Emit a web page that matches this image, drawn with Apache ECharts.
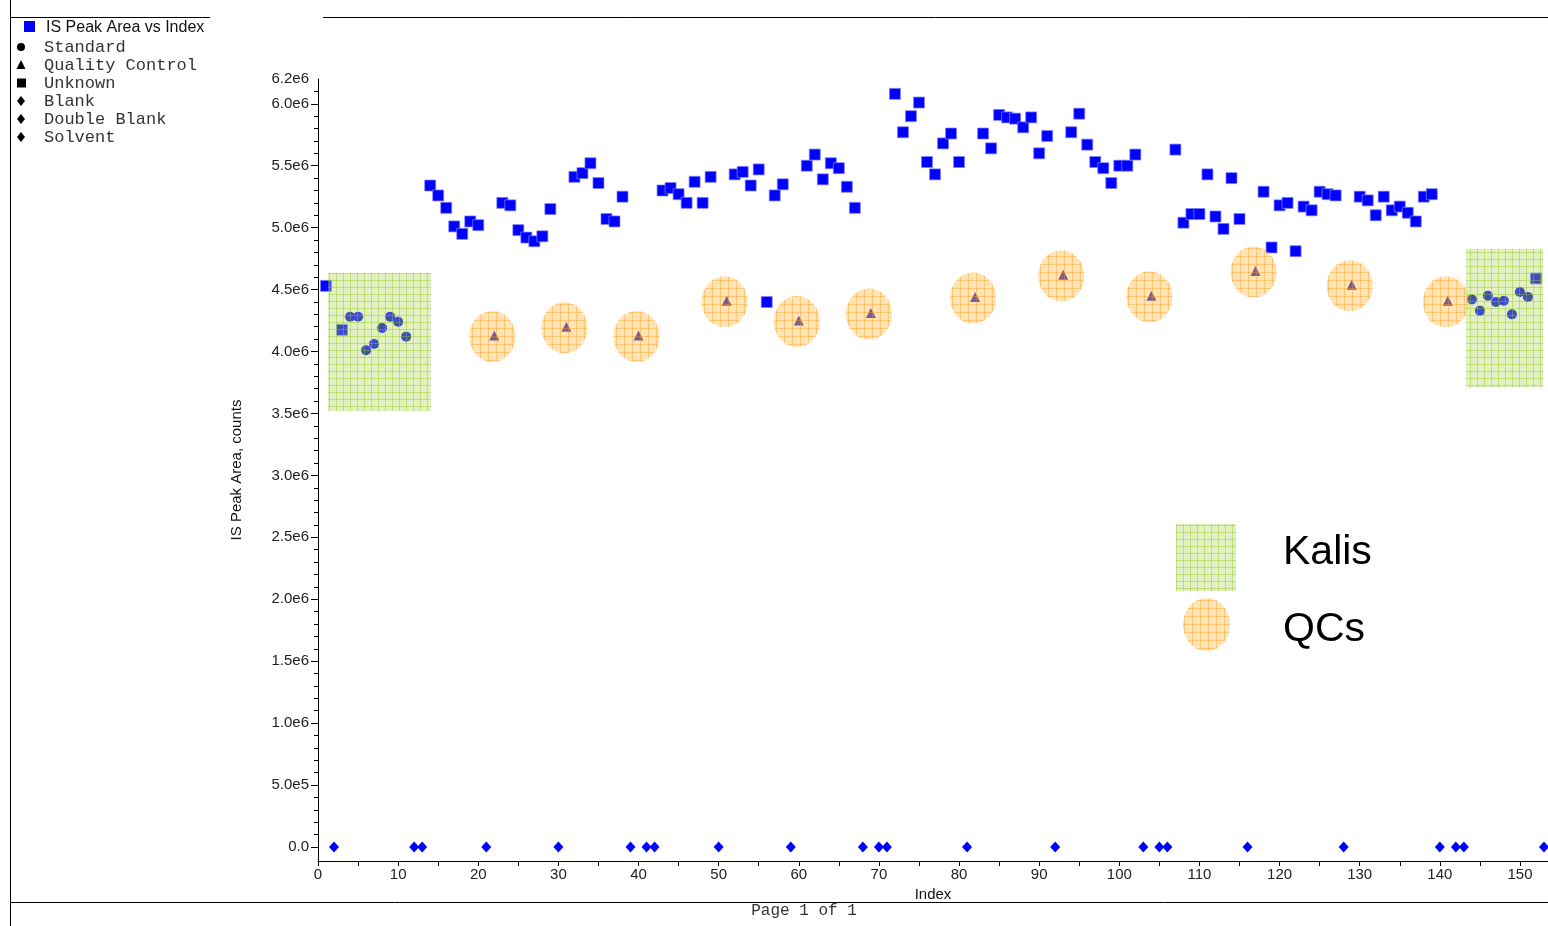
<!DOCTYPE html>
<html>
<head>
<meta charset="utf-8">
<script src="https://cdn.jsdelivr.net/npm/echarts@6/dist/echarts.min.js"></script>
<style>
  html, body { margin: 0; padding: 0; background: #fff; }
  #chart { width: 1548px; height: 926px; }
</style>
</head>
<body>
<div id="chart"></div>
<script>
// ---- Data: injection index vs internal-standard peak area (counts) ----
const unknownIndex = [1, 3, 14, 15, 16, 17, 18, 19, 20, 23, 24, 25, 26, 27, 28, 29, 32, 33, 34, 35, 36, 37, 38,
  43, 44, 45, 46, 47, 48, 49, 52, 53, 54, 55, 56, 57, 58, 61, 62, 63, 64, 65, 66, 67,
  72, 73, 74, 75, 76, 77, 78, 79, 80, 83, 84, 85, 86, 87, 88, 89, 90, 91,
  94, 95, 96, 97, 98, 99, 100, 101, 102, 107, 108, 109, 110, 111, 112, 113, 114, 115,
  118, 119, 120, 121, 122, 123, 124, 125, 126, 127, 130, 131, 132, 133, 134, 135, 136, 137, 138, 139, 152];
const unknownArea = [4.53e6, 4.175e6, 5.34e6, 5.26e6, 5.16e6, 5.01e6, 4.95e6, 5.05e6, 5.02e6, 5.20e6, 5.18e6, 4.98e6, 4.92e6, 4.89e6, 4.93e6, 5.15e6, 5.41e6, 5.44e6, 5.52e6, 5.36e6, 5.07e6, 5.05e6, 5.25e6,
  5.30e6, 5.32e6, 5.27e6, 5.20e6, 5.37e6, 5.20e6, 5.41e6, 5.43e6, 5.45e6, 5.34e6, 5.47e6, 4.40e6, 5.26e6, 5.35e6, 5.50e6, 5.59e6, 5.39e6, 5.52e6, 5.48e6, 5.33e6, 5.16e6,
  6.08e6, 5.77e6, 5.90e6, 6.01e6, 5.53e6, 5.43e6, 5.68e6, 5.76e6, 5.53e6, 5.76e6, 5.64e6, 5.91e6, 5.89e6, 5.88e6, 5.81e6, 5.89e6, 5.60e6, 5.74e6,
  5.77e6, 5.92e6, 5.67e6, 5.53e6, 5.48e6, 5.36e6, 5.50e6, 5.50e6, 5.59e6, 5.63e6, 5.04e6, 5.11e6, 5.11e6, 5.43e6, 5.09e6, 4.99e6, 5.40e6, 5.07e6,
  5.29e6, 4.84e6, 5.18e6, 5.20e6, 4.81e6, 5.17e6, 5.14e6, 5.29e6, 5.27e6, 5.26e6, 5.25e6, 5.22e6, 5.10e6, 5.25e6, 5.14e6, 5.17e6, 5.12e6, 5.05e6, 5.25e6, 5.27e6, 4.59e6];

const standardIndex = [4, 5, 6, 7, 8, 9, 10, 11, 144, 145, 146, 147, 148, 149, 150, 151];
const standardArea = [4.28e6, 4.28e6, 4.01e6, 4.06e6, 4.19e6, 4.28e6, 4.24e6, 4.12e6,
  4.42e6, 4.33e6, 4.45e6, 4.40e6, 4.41e6, 4.30e6, 4.48e6, 4.44e6];

const qcIndex = [22, 31, 40, 51, 60, 69, 82, 93, 104, 117, 129, 141];
const qcArea = [4.13e6, 4.20e6, 4.13e6, 4.41e6, 4.25e6, 4.31e6, 4.44e6, 4.62e6, 4.45e6, 4.65e6, 4.54e6, 4.41e6];

// Blank, double blank and solvent injections (no internal standard)
const blankIndex = [2, 12, 13, 21, 30, 39, 41, 42, 50, 59, 68, 70, 71, 81, 92, 103, 105, 106, 116, 128, 140, 142, 143, 153];
const blankArea = [0, 0, 0, 0, 0, 0, 0, 0, 0, 0, 0, 0, 0, 0, 0, 0, 0, 0, 0, 0, 0, 0, 0, 0];

// Axis tick values
const xLabelValues = [0, 10, 20, 30, 40, 50, 60, 70, 80, 90, 100, 110, 120, 130, 140, 150];
const xTickValues = [0, 5, 10, 15, 20, 25, 30, 35, 40, 45, 50, 55, 60, 65, 70, 75, 80, 85, 90, 95, 100, 105, 110, 115, 120, 125, 130, 135, 140, 145, 150];
const yLabelValues = [0, 5e5, 1e6, 1.5e6, 2e6, 2.5e6, 3e6, 3.5e6, 4e6, 4.5e6, 5e6, 5.5e6, 6e6, 6.2e6];
const yMajorTickValues = [0, 5e5, 1e6, 1.5e6, 2e6, 2.5e6, 3e6, 3.5e6, 4e6, 4.5e6, 5e6, 5.5e6, 6e6];
const yMinorTickValues = [1e5, 2e5, 3e5, 4e5, 6e5, 7e5, 8e5, 9e5, 1.1e6, 1.2e6, 1.3e6, 1.4e6, 1.6e6, 1.7e6, 1.8e6, 1.9e6,
  2.1e6, 2.2e6, 2.3e6, 2.4e6, 2.6e6, 2.7e6, 2.8e6, 2.9e6, 3.1e6, 3.2e6, 3.3e6, 3.4e6, 3.6e6, 3.7e6, 3.8e6, 3.9e6,
  4.1e6, 4.2e6, 4.3e6, 4.4e6, 4.6e6, 4.7e6, 4.8e6, 4.9e6, 5.1e6, 5.2e6, 5.3e6, 5.4e6, 5.6e6, 5.7e6, 5.8e6, 5.9e6, 6.1e6];

const pair = (xs, ys) => xs.map((x, i) => [x, ys[i]]);

// ---- Fill patterns for the highlight overlays ----
function makePattern(size, base, dot, line) {
  const c = document.createElement('canvas');
  c.width = c.height = size;
  const g = c.getContext('2d');
  g.fillStyle = base;
  g.fillRect(0, 0, size, size);
  g.fillStyle = dot;
  for (let y = 0; y < size; y++) {
    for (let x = 0; x < size; x++) {
      if ((x + y) % 2 === 0) g.fillRect(x, y, 1, 1);
    }
  }
  g.fillStyle = line;
  g.fillRect(0, 0, size, 1);
  g.fillRect(0, 0, 1, size);
  return c;
}
const greenPattern = makePattern(7, 'rgba(180,218,95,0.28)', 'rgba(160,205,50,0.22)', 'rgba(145,195,35,0.42)');
const orangePattern = makePattern(8, 'rgba(253,200,120,0.36)', 'rgba(252,170,60,0.22)', 'rgba(244,155,30,0.42)');

const yFmt = v => (v === 0 ? '0.0' : v.toExponential(1).replace('e+', 'e'));
const MONO = '"Liberation Mono", "DejaVu Sans Mono", monospace';
const SANS = '"Liberation Sans", Arial, sans-serif';
const LEG_Y = [47, 65, 83, 101, 119, 137];
const LEG_NAMES = ['Standard', 'Quality Control', 'Unknown', 'Blank', 'Double Blank', 'Solvent'];

const chart = echarts.init(document.getElementById('chart'), null, { renderer: 'canvas' });

const legendGraphics = [];
// series legend
legendGraphics.push({ type: 'rect', shape: { x: 24, y: 21, width: 11, height: 11 }, style: { fill: '#0000ff' } });
legendGraphics.push({ type: 'text', x: 46, y: 28, style: { text: 'IS Peak Area vs Index', font: '16px ' + SANS, fill: '#111', verticalAlign: 'middle' } });
// sample type legend
legendGraphics.push({ type: 'circle', shape: { cx: 21, cy: LEG_Y[0], r: 4 }, style: { fill: '#000' } });
legendGraphics.push({ type: 'polygon', shape: { points: [[21, LEG_Y[1] - 5], [25.5, LEG_Y[1] + 4], [16.5, LEG_Y[1] + 4]] }, style: { fill: '#000' } });
legendGraphics.push({ type: 'rect', shape: { x: 17, y: LEG_Y[2] - 4.5, width: 9, height: 9 }, style: { fill: '#000' } });
for (let k = 3; k < 6; k++) {
  const cy = LEG_Y[k];
  legendGraphics.push({ type: 'polygon', shape: { points: [[21, cy - 5], [25, cy], [21, cy + 5], [17, cy]] }, style: { fill: '#000' } });
}
LEG_NAMES.forEach((n, k) => {
  legendGraphics.push({ type: 'text', x: 44, y: LEG_Y[k], style: { text: n, font: '17px ' + MONO, fill: '#333', verticalAlign: 'middle' } });
});

// page frame
const frame = [
  { type: 'line', shape: { x1: 10.5, y1: 0, x2: 10.5, y2: 926 }, style: { stroke: '#000', lineWidth: 1 } },
  { type: 'line', shape: { x1: 10, y1: 17.5, x2: 210, y2: 17.5 }, style: { stroke: '#000', lineWidth: 1 } },
  { type: 'line', shape: { x1: 323, y1: 17.5, x2: 1548, y2: 17.5 }, style: { stroke: '#000', lineWidth: 1 } },
  { type: 'line', shape: { x1: 10, y1: 902.5, x2: 1548, y2: 902.5 }, style: { stroke: '#000', lineWidth: 1 } },
  { type: 'text', x: 804, y: 911, style: { text: 'Page 1 of 1', font: '16px ' + MONO, fill: '#333', align: 'center', verticalAlign: 'middle' } }
];

// Kalis / QCs key
const key = [
  { type: 'rect', shape: { x: 1176, y: 524, width: 60, height: 67 }, style: { fill: { image: greenPattern, repeat: 'repeat' } } },
  { type: 'ellipse', shape: { cx: 1206.5, cy: 624.5, rx: 23.5, ry: 26.5 }, style: { fill: { image: orangePattern, repeat: 'repeat' } } },
  { type: 'text', x: 1283, y: 553, style: { text: 'Kalis', font: '41px ' + SANS, fill: '#000', verticalAlign: 'middle' } },
  { type: 'text', x: 1283, y: 630, style: { text: 'QCs', font: '41px ' + SANS, fill: '#000', verticalAlign: 'middle' } }
];

const option = {
  animation: false,
  backgroundColor: '#fff',
  grid: { left: 318, right: 0, top: 79, bottom: 65, containLabel: false },
  xAxis: {
    type: 'value', min: 0, max: 153.5,
    name: 'Index', nameLocation: 'middle', nameGap: 25,
    nameTextStyle: { fontFamily: SANS, fontSize: 15, color: '#111' },
    axisLine: { show: true, onZero: false, lineStyle: { color: '#000', width: 1 } },
    axisTick: { show: true, length: 5, customValues: xTickValues, lineStyle: { color: '#000' } },
    axisLabel: { customValues: xLabelValues, fontFamily: SANS, fontSize: 15, color: '#222', margin: 6 },
    splitLine: { show: false }
  },
  yAxis: [
    {
      type: 'value', min: -113000, max: 6.2e6, position: 'left',
      name: 'IS Peak Area, counts', nameLocation: 'middle', nameGap: 74, nameRotate: 90,
      nameTextStyle: { fontFamily: SANS, fontSize: 15, color: '#111' },
      axisLine: { show: true, onZero: false, lineStyle: { color: '#000', width: 1 } },
      axisTick: { show: true, length: 7, customValues: yMajorTickValues, lineStyle: { color: '#000' } },
      axisLabel: { customValues: yLabelValues, formatter: yFmt, fontFamily: SANS, fontSize: 15, color: '#222', margin: 9 },
      splitLine: { show: false }
    },
    {
      type: 'value', min: -113000, max: 6.2e6, position: 'left',
      axisLine: { show: false, onZero: false },
      axisTick: { show: true, length: 4, customValues: yMinorTickValues, lineStyle: { color: '#000' } },
      axisLabel: { show: false },
      splitLine: { show: false }
    }
  ],
  series: [
    { name: 'Unknown', type: 'scatter', symbol: 'rect', symbolSize: 11, z: 3,
      itemStyle: { color: '#0000ff', opacity: 1, borderColor: 'rgba(130,130,255,0.9)', borderWidth: 0.8 },
      data: pair(unknownIndex, unknownArea) },
    { name: 'Standard', type: 'scatter', symbol: 'circle', symbolSize: 10, z: 3,
      itemStyle: { color: '#0000ff', opacity: 1 }, data: pair(standardIndex, standardArea) },
    { name: 'Quality Control', type: 'scatter', symbol: 'triangle', symbolSize: 10, z: 3,
      itemStyle: { color: '#1010e0', opacity: 1 }, data: pair(qcIndex, qcArea) },
    { name: 'Blank', type: 'scatter', symbol: 'diamond', symbolSize: [10, 11], z: 3,
      itemStyle: { color: '#0000ff', opacity: 1 }, data: pair(blankIndex, blankArea) },
    // QC highlight rings, drawn over the QC triangles
    { name: 'QC highlight', type: 'custom', z: 6, silent: true, clip: false,
      encode: { x: 0, y: 1 },
      renderItem: (params, api) => {
        const c = api.coord([api.value(0), api.value(1)]);
        return { type: 'ellipse', shape: { cx: c[0] - 2, cy: c[1] + 1, rx: 23, ry: 25.5 },
          style: { fill: { image: orangePattern, repeat: 'repeat' } } };
      },
      data: pair(qcIndex, qcArea) },
    // Calibration standard (Kalis) blocks
    { name: 'Kalis', type: 'custom', z: 6, silent: true, clip: false,
      encode: { x: [0, 1], y: [2, 3] },
      renderItem: (params, api) => {
        const p0 = api.coord([api.value(0), api.value(3)]);
        const p1 = api.coord([api.value(1), api.value(2)]);
        return { type: 'rect', shape: { x: p0[0], y: p0[1], width: p1[0] - p0[0], height: p1[1] - p0[1] },
          style: { fill: { image: greenPattern, repeat: 'repeat' } } };
      },
      data: [[1.25, 14.1, 3.52e6, 4.635e6], [143.25, 152.9, 3.71e6, 4.83e6]] }
  ],
  graphic: [].concat(frame, legendGraphics, key)
};
chart.setOption(option);
</script>
</body>
</html>
